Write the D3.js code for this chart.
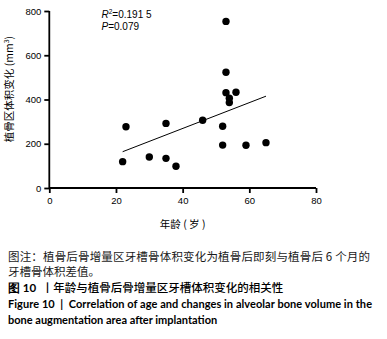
<!DOCTYPE html>
<html><head><meta charset="utf-8">
<script src="https://cdn.jsdelivr.net/npm/d3@7"></script>
<style>body{margin:0;background:#fff}svg{display:block}text{white-space:pre}</style>
</head><body>
<svg id="c" width="387" height="339"></svg>
<script>
const ages   = [22, 23, 30, 35, 35, 38, 46, 52, 52, 53, 53, 53, 54, 54, 56, 59, 65];
const volumes= [119, 277, 140, 292, 134, 98, 306, 279, 194, 753, 523, 431, 406, 386, 433, 193, 205];
const fitAges = [22, 65];
const fitVolumes = [164, 415];
const xTicks = [0, 20, 40, 60, 80];
const yTicks = [0, 200, 400, 600, 800];
const xTitle = "年龄 ( 岁 )";
const yTitle = "植骨区体积变化 (mm";
const statR2 = "0.191 5";
const statP = "0.079";
const captionLines = ["图注：植骨后骨增量区牙槽骨体积变化为植骨后即刻与植骨后 6 个月的", "牙槽骨体积差值。"];
const figCn = ["图 10  ", "丨年龄与植骨后骨增量区牙槽体积变化的相关性"];
const figEn = ["Figure 10  |  Correlation of age and changes in alveolar bone volume in the", "bone augmentation area after implantation"];

const svg = d3.select("#c");
const x = d3.scaleLinear().domain([0, 80]).range([49.3, 316]);
const y = d3.scaleLinear().domain([0, 800]).range([188, 11]);
const sans = "'Liberation Sans', Arial, sans-serif";
const cjk = "'Noto Sans CJK SC', sans-serif";

const gx = svg.append("g").attr("transform", "translate(0,188)")
  .call(d3.axisBottom(x).tickValues(xTicks).tickSize(5).tickPadding(4));
const gy = svg.append("g").attr("transform", "translate(49.3,0)")
  .call(d3.axisLeft(y).tickValues(yTicks).tickSize(5).tickPadding(3));
[gx, gy].forEach(g => {
  g.select(".domain").attr("stroke", "#000").attr("stroke-width", 1.8);
  g.selectAll(".tick line").attr("stroke", "#000").attr("stroke-width", 1.8);
  g.selectAll(".tick text").attr("font-family", sans).attr("font-size", 9.5).attr("fill", "#000");
});
gx.select(".domain").attr("d", `M${x(0)},0H${x(80)}`);
gy.select(".domain").attr("d", `M0,${y(0)+0.9}V${y(800)}`);

svg.append("line")
  .attr("x1", x(fitAges[0])).attr("y1", y(fitVolumes[0]))
  .attr("x2", x(fitAges[1])).attr("y2", y(fitVolumes[1]))
  .attr("stroke", "#000").attr("stroke-width", 1);

svg.append("g").selectAll("circle").data(ages.map((a, i) => [a, volumes[i]]))
  .join("circle").attr("cx", d => x(d[0])).attr("cy", d => y(d[1])).attr("r", 3.7).attr("fill", "#000");

const s1 = svg.append("text").attr("x", 101.5).attr("y", 18).attr("font-family", sans).attr("font-size", 10).attr("fill", "#000");
s1.append("tspan").attr("font-style", "italic").text("R");
s1.append("tspan").attr("font-size", 6.5).attr("dy", -4).text("2");
s1.append("tspan").attr("dy", 4).text("=" + statR2);
const s2 = svg.append("text").attr("x", 101.5).attr("y", 30).attr("font-family", sans).attr("font-size", 10).attr("fill", "#000");
s2.append("tspan").attr("font-style", "italic").text("P");
s2.append("tspan").text("=" + statP);

svg.append("text").attr("x", x(40)).attr("y", 228).attr("text-anchor", "middle")
  .attr("font-family", cjk).attr("font-size", 10.5).attr("fill", "#000").text(xTitle);
const yt = svg.append("text").attr("transform", "translate(13,89) rotate(-90)").attr("text-anchor", "middle")
  .attr("font-family", cjk).attr("font-size", 10.5).attr("fill", "#000");
yt.append("tspan").text(yTitle);
yt.append("tspan").attr("font-size", 7).attr("dy", -4).text("3");
yt.append("tspan").attr("dy", 4).text(")");

svg.append("text").attr("x", 8).attr("y", 261).attr("font-family", cjk).attr("font-size", 11.5).attr("fill", "#1a1a1a")
  .attr("textLength", 362).attr("lengthAdjust", "spacing").text(captionLines[0]);
svg.append("text").attr("x", 8).attr("y", 276).attr("font-family", cjk).attr("font-size", 11.5).attr("fill", "#1a1a1a").text(captionLines[1]);
const f3 = svg.append("text").attr("x", 8).attr("y", 292).attr("font-family", cjk).attr("font-size", 11.5).attr("fill", "#000");
f3.append("tspan").attr("font-weight", "bold").attr("font-family", "Lato, " + sans).text(figCn[0]);
f3.append("tspan").attr("font-weight", 500).text(figCn[1]);
svg.append("text").attr("x", 8).attr("y", 308).attr("font-family", "Lato, sans-serif").attr("font-weight", "bold").attr("font-size", 11).attr("fill", "#000")
  .attr("textLength", 364).attr("lengthAdjust", "spacing").text(figEn[0]);
svg.append("text").attr("x", 8).attr("y", 324).attr("font-family", "Lato, sans-serif").attr("font-weight", "bold").attr("font-size", 11).attr("fill", "#000").text(figEn[1]);
</script>
</body></html>
